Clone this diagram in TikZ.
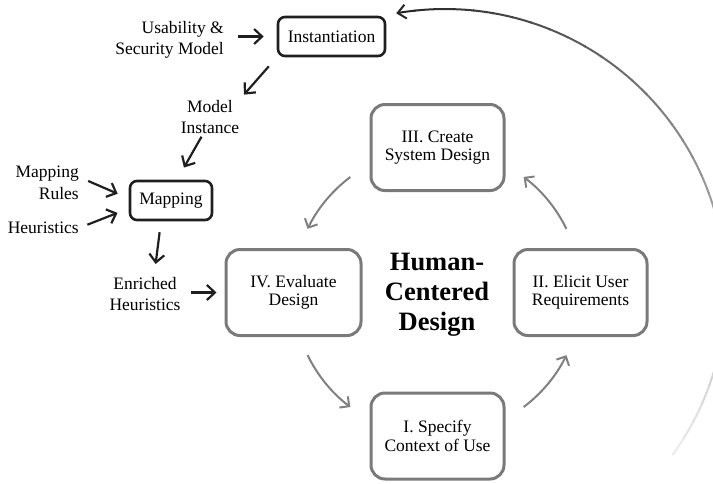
\documentclass[tikz,border=0pt]{standalone}
\usepackage{fontspec}
\setmainfont{Liberation Serif}
\usetikzlibrary{arrows.meta}
\begin{document}
\begin{tikzpicture}[x=1pt, y=1pt,
    stagebox/.style={draw=black!52, line width=3pt, rounded corners=14pt, minimum width=133pt, minimum height=86pt, align=center, inner sep=0pt, font=\fontsize{17.5}{18.5}\selectfont},
    toolbox/.style={draw=black!88, line width=2.6pt, rounded corners=7pt, minimum height=39pt, inner sep=0pt, font=\fontsize{17.5}{21}\selectfont},
    lbl/.style={align=center, inner sep=0pt, font=\fontsize{17.5}{21.5}\selectfont},
    blk/.style={line width=2.2pt, black!88, -{Straight Barb[length=8pt, width=15pt]}},
    cyc/.style={line width=2pt, black!50, -{Straight Barb[length=7pt, width=14pt]}}]
  \useasboundingbox (0,0) rectangle (713,-483);
  \clip (0,0) rectangle (713,-483);

  % feedback loop, fading in from the bottom
  \coordinate (loop) at (445,-290);
  \foreach \i in {0,...,32} {
    \pgfmathsetmacro\ang{-36+4*\i}
    \pgfmathsetmacro\shade{8+2.33*\i}
    \draw[line width=2pt, black!\shade] ([shift={(\ang:281)}]loop) arc[start angle=\ang, delta angle=4.3, radius=281];
  }
  \draw[line width=2pt, black!85, -{Straight Barb[length=8pt, width=14pt]}] ([shift={(96:281)}]loop) arc[start angle=96, end angle=100, radius=281];

  % tool chain
  \node[toolbox, minimum width=107pt] (inst) at (331.5,-36.5) {Instantiation};
  \node[toolbox, minimum width=82pt] (map) at (171,-200.5) {Mapping};
  \node[lbl, anchor=east, align=right] (usm) at (224,-40) {Usability \&\\Security Model};
  \node[lbl] (mi) at (210,-117) {Model\\Instance};
  \node[lbl, anchor=east, align=right] (mr) at (79,-183) {Mapping\\Rules};
  \node[lbl, anchor=east] (heu) at (79,-228) {Heuristics};
  \node[lbl] (enr) at (145,-294) {Enriched\\Heuristics};

  \draw[blk, shorten <=14pt, shorten >=13pt] (usm.east |- inst.west) -- (inst.west);
  \draw[blk, shorten <=12pt, shorten >=7pt] (inst.south west) -- (mi.north east);
  \draw[blk, shorten <=3pt, shorten >=14pt] ([xshift=-7pt]mi.south) -- ([xshift=6pt]map.north);
  \draw[blk, shorten <=10pt, shorten >=12pt] ([yshift=6pt]mr.east) -- ([yshift=2pt]map.west);
  \draw[blk, shorten <=9pt, shorten >=12pt] (heu.east) -- ([yshift=-8pt]map.west);
  \draw[blk, shorten <=11pt, shorten >=13pt] ([xshift=-10pt]map.south) -- ([xshift=9pt]enr.north);

  % human-centered design cycle
  \node[stagebox] (create) at (437.5,-147.5) {III. Create\\System Design};
  \node[stagebox, minimum width=135pt] (eval) at (293.5,-292.5) {IV. Evaluate\\Design};
  \node[stagebox] (elicit) at (580.5,-292.5) {II. Elicit User\\Requirements};
  \node[stagebox] (spec) at (437.5,-436) {I. Specify\\Context of Use};
  \node[align=center, inner sep=0pt, font=\bfseries\fontsize{26.5}{30}\selectfont] (hcd) at (437,-295) {Human-\\Centered\\Design};

  \draw[blk, shorten <=10pt, shorten >=8pt] (enr.east |- eval.west) -- (eval.west);
  \coordinate (ring) at (437,-292);
  \foreach \a in {26,127,206,307}
    \draw[cyc] ([shift={(\a:144)}]ring) arc[start angle=\a, delta angle=27, radius=144];
\end{tikzpicture}
\end{document}
